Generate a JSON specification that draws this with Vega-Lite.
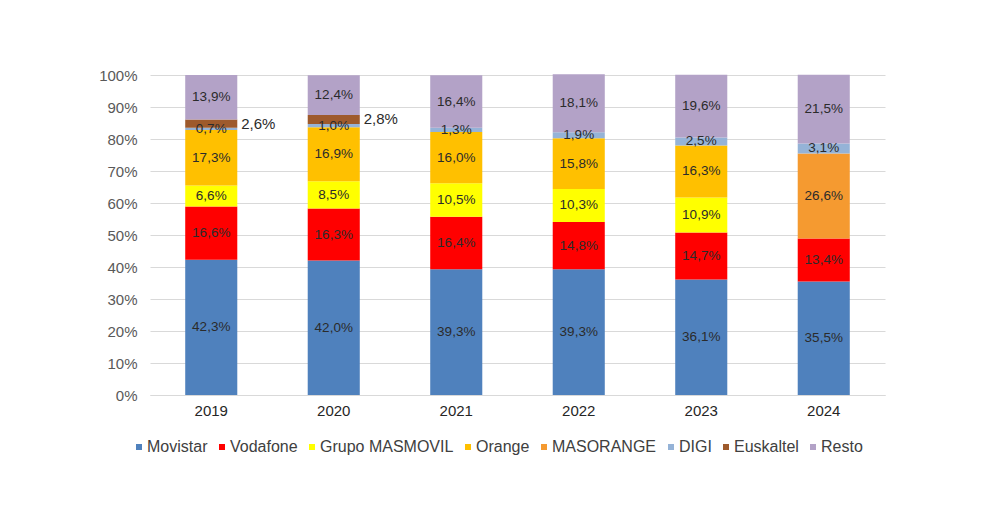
{
  "$schema": "https://vega.github.io/schema/vega-lite/v6.json",
  "width": 735,
  "height": 320,
  "autosize": "none",
  "padding": {"left": 150, "top": 75, "right": 115, "bottom": 123},
  "background": "white",
  "config": {
    "locale": {"number": {"decimal": ",", "thousands": ".", "grouping": [3], "currency": ["", " €"]}},
    "view": {"stroke": null},
    "font": "Liberation Sans",
    "axisY": {
      "title": null,
      "format": ".0%",
      "values": [0, 0.1, 0.2, 0.3, 0.4, 0.5, 0.6, 0.7, 0.8, 0.9, 1],
      "domain": false,
      "ticks": false,
      "labelColor": "#595959",
      "labelFontSize": 15,
      "labelPadding": 13,
      "labelOverlap": false,
      "gridColor": "#D9D9D9"
    }
  },
  "data": {
    "values": [
      {"year": "2019", "company": "Movistar", "orden": 1, "share": 0.423},
      {"year": "2019", "company": "Vodafone", "orden": 2, "share": 0.166},
      {"year": "2019", "company": "Grupo MASMOVIL", "orden": 3, "share": 0.066},
      {"year": "2019", "company": "Orange", "orden": 4, "share": 0.173},
      {"year": "2019", "company": "DIGI", "orden": 6, "share": 0.007},
      {"year": "2019", "company": "Euskaltel", "orden": 7, "share": 0.026},
      {"year": "2019", "company": "Resto", "orden": 8, "share": 0.139},
      {"year": "2020", "company": "Movistar", "orden": 1, "share": 0.420},
      {"year": "2020", "company": "Vodafone", "orden": 2, "share": 0.163},
      {"year": "2020", "company": "Grupo MASMOVIL", "orden": 3, "share": 0.085},
      {"year": "2020", "company": "Orange", "orden": 4, "share": 0.169},
      {"year": "2020", "company": "DIGI", "orden": 6, "share": 0.010},
      {"year": "2020", "company": "Euskaltel", "orden": 7, "share": 0.028},
      {"year": "2020", "company": "Resto", "orden": 8, "share": 0.124},
      {"year": "2021", "company": "Movistar", "orden": 1, "share": 0.393},
      {"year": "2021", "company": "Vodafone", "orden": 2, "share": 0.164},
      {"year": "2021", "company": "Grupo MASMOVIL", "orden": 3, "share": 0.105},
      {"year": "2021", "company": "Orange", "orden": 4, "share": 0.160},
      {"year": "2021", "company": "DIGI", "orden": 6, "share": 0.013},
      {"year": "2021", "company": "Resto", "orden": 8, "share": 0.164},
      {"year": "2022", "company": "Movistar", "orden": 1, "share": 0.393},
      {"year": "2022", "company": "Vodafone", "orden": 2, "share": 0.148},
      {"year": "2022", "company": "Grupo MASMOVIL", "orden": 3, "share": 0.103},
      {"year": "2022", "company": "Orange", "orden": 4, "share": 0.158},
      {"year": "2022", "company": "DIGI", "orden": 6, "share": 0.019},
      {"year": "2022", "company": "Resto", "orden": 8, "share": 0.181},
      {"year": "2023", "company": "Movistar", "orden": 1, "share": 0.361},
      {"year": "2023", "company": "Vodafone", "orden": 2, "share": 0.147},
      {"year": "2023", "company": "Grupo MASMOVIL", "orden": 3, "share": 0.109},
      {"year": "2023", "company": "Orange", "orden": 4, "share": 0.163},
      {"year": "2023", "company": "DIGI", "orden": 6, "share": 0.025},
      {"year": "2023", "company": "Resto", "orden": 8, "share": 0.196},
      {"year": "2024", "company": "Movistar", "orden": 1, "share": 0.355},
      {"year": "2024", "company": "Vodafone", "orden": 2, "share": 0.134},
      {"year": "2024", "company": "MASORANGE", "orden": 5, "share": 0.266},
      {"year": "2024", "company": "DIGI", "orden": 6, "share": 0.031},
      {"year": "2024", "company": "Resto", "orden": 8, "share": 0.215}
    ]
  },
  "transform": [
    {"stack": "share", "groupby": ["year"], "sort": [{"field": "orden", "order": "ascending"}], "as": ["y0", "y1"]},
    {"calculate": "(datum.y0 + datum.y1) / 2", "as": "ymid"}
  ],
  "encoding": {
    "x": {
      "field": "year",
      "type": "ordinal",
      "scale": {"paddingInner": 0.575, "paddingOuter": 0.2875},
      "axis": {
        "title": null,
        "labelAngle": 0,
        "domain": true,
        "domainColor": "#D9D9D9",
        "ticks": false,
        "labelColor": "#262626",
        "labelFontSize": 15,
        "labelPadding": 8
      }
    }
  },
  "layer": [
    {
      "mark": {"type": "bar"},
      "encoding": {
        "y": {"field": "y0", "type": "quantitative", "scale": {"domain": [0, 1]}},
        "y2": {"field": "y1"},
        "color": {
          "field": "company",
          "type": "nominal",
          "scale": {
            "domain": ["Movistar", "Vodafone", "Grupo MASMOVIL", "Orange", "MASORANGE", "DIGI", "Euskaltel", "Resto"],
            "range": ["#4F81BD", "#FF0000", "#FFFF00", "#FFC000", "#F59A30", "#95B3D7", "#9E5A2C", "#B3A2C7"]
          },
          "legend": {
            "orient": "none",
            "legendX": -19,
            "legendY": 364,
            "direction": "horizontal",
            "title": null,
            "symbolType": "square",
            "symbolSize": 36,
            "symbolStrokeWidth": 0,
            "labelFontSize": 16,
            "labelColor": "#404040",
            "columnPadding": 6,
            "labelOffset": 0
          }
        }
      }
    },
    {
      "transform": [{"filter": "datum.company !== 'Euskaltel'"}],
      "mark": {"type": "text", "fontSize": 13.5, "color": "#2B2B2B"},
      "encoding": {
        "y": {"field": "ymid", "type": "quantitative"},
        "text": {"field": "share", "type": "quantitative", "format": ".1%"}
      }
    },
    {
      "transform": [{"filter": "datum.company === 'Euskaltel'"}],
      "mark": {"type": "text", "fontSize": 15, "color": "#2B2B2B", "align": "left", "dx": 30},
      "encoding": {
        "y": {"field": "ymid", "type": "quantitative"},
        "text": {"field": "share", "type": "quantitative", "format": ".1%"}
      }
    }
  ]
}
